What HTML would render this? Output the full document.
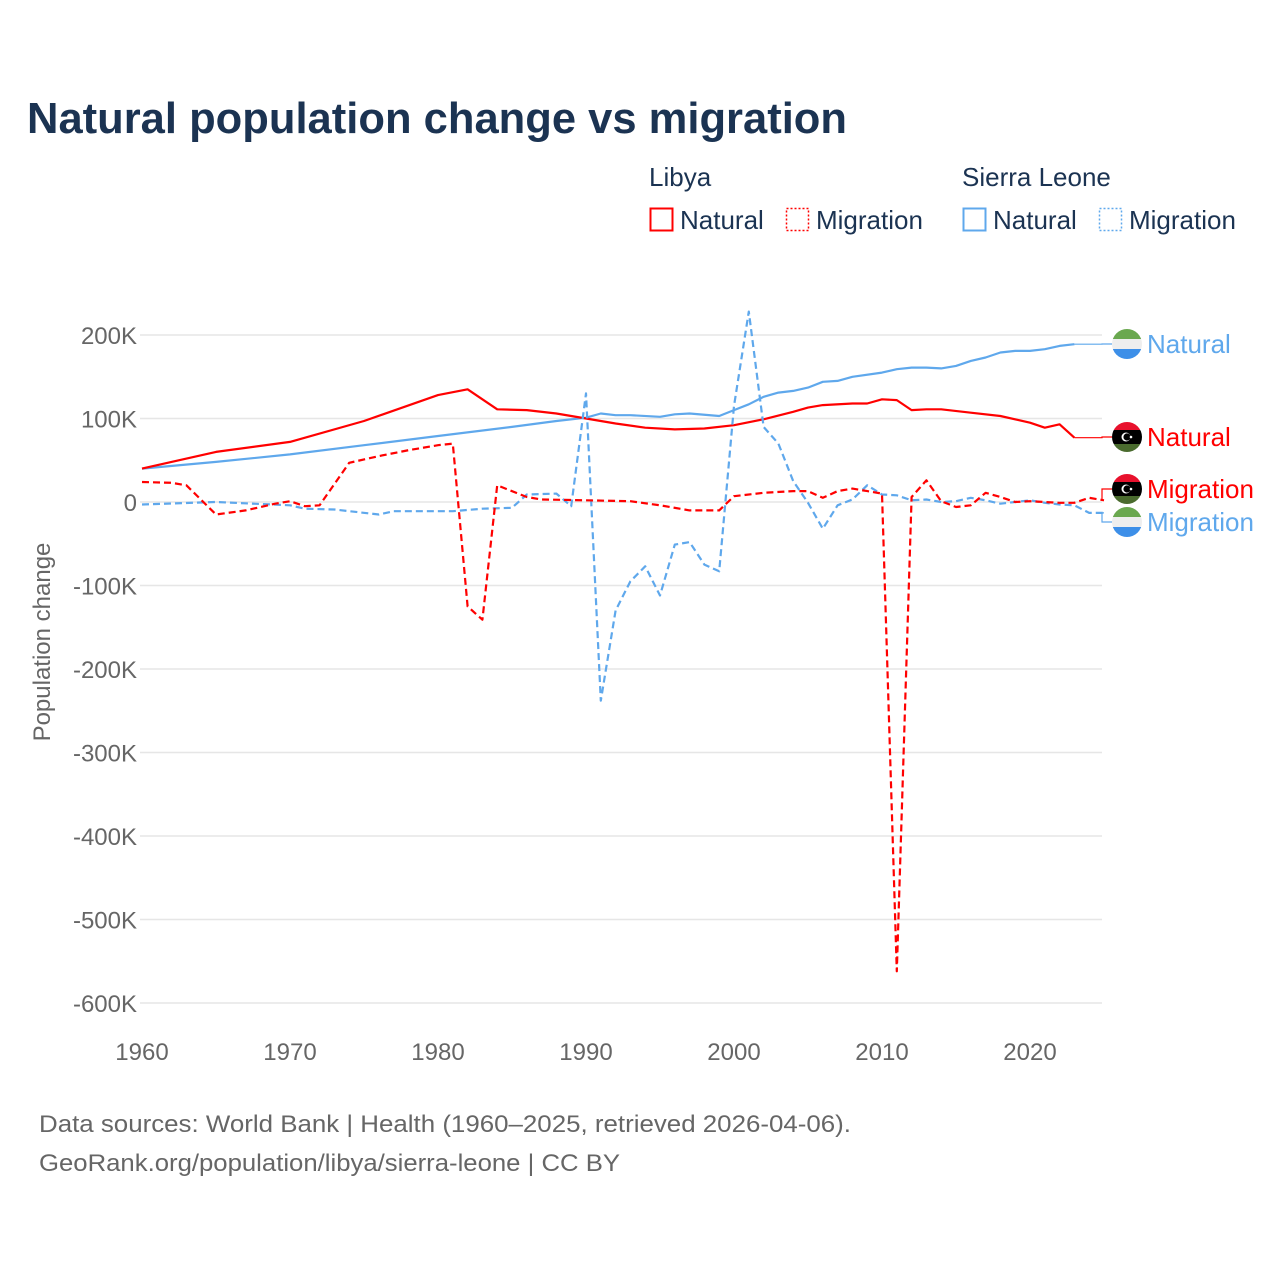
<!DOCTYPE html>
<html><head><meta charset="utf-8"><style>
body{margin:0;background:#fff;font-family:"Liberation Sans",sans-serif}
#wrap{position:relative;width:1280px;height:1280px;overflow:hidden}
</style></head><body>
<div id="wrap">
<svg id="chart" width="1280" height="1280" xmlns="http://www.w3.org/2000/svg">
<text x="27" y="133" font-size="44" font-weight="bold" fill="#1b3352" textLength="820" lengthAdjust="spacingAndGlyphs">Natural population change vs migration</text>
<g font-size="26" fill="#1b3352">
<text x="649" y="186">Libya</text>
<text x="962" y="186">Sierra Leone</text>
<g><rect x="650.5" y="208.5" width="22" height="22" fill="none" stroke="#ff0000" stroke-width="2"/><text x="680" y="229">Natural</text></g>
<g><rect x="786.5" y="208.5" width="22" height="22" fill="none" stroke="#ff0000" stroke-width="1.5" stroke-dasharray="2,2"/><text x="816" y="229">Migration</text></g>
<g><rect x="963.5" y="208.5" width="22" height="22" fill="none" stroke="#5fa8ec" stroke-width="2"/><text x="993" y="229">Natural</text></g>
<g><rect x="1099.5" y="208.5" width="22" height="22" fill="none" stroke="#5fa8ec" stroke-width="1.5" stroke-dasharray="2,2"/><text x="1129" y="229">Migration</text></g>
</g>
<g id="grid"></g>
<g id="yticks" font-size="24" fill="#666" text-anchor="end"></g>
<g id="xticks" font-size="24" fill="#666" text-anchor="middle"></g>
<text transform="translate(50,642) rotate(-90)" font-size="24" fill="#666" text-anchor="middle">Population change</text>
<g id="series"></g>
<g id="labels" font-size="26"></g>
<text x="39" y="1132" font-size="24" fill="#666" textLength="812" lengthAdjust="spacingAndGlyphs">Data sources: World Bank | Health (1960–2025, retrieved 2026-04-06).</text>
<text x="39" y="1171" font-size="24" fill="#666" textLength="581" lengthAdjust="spacingAndGlyphs">GeoRank.org/population/libya/sierra-leone | CC BY</text>
</svg>
</div>
<script>
const yTicks=[200,100,0,-100,-200,-300,-400,-500,-600];
const xTicks=[1960,1970,1980,1990,2000,2010,2020];
const natYears=[1960,1965,1970,1975,1980,1982,1984,1986,1988,1990,1992,1994,1996,1998,2000,2002,2004,2005,2006,2008,2009,2010,2011,2012,2013,2014,2016,2018,2020,2021,2022,2023];
const libyaNatural=[40,60,72,97,128,135,111,110,106,100,94,89,87,88,92,99,108,113,116,118,118,123,122,110,111,111,107,103,95,89,93,77];
const slNatYears=[1960,1965,1970,1975,1980,1985,1988,1990,1991,1992,1993,1995,1996,1997,1999,2000,2001,2002,2003,2004,2005,2006,2007,2008,2010,2011,2012,2013,2014,2015,2016,2017,2018,2019,2020,2021,2022,2023];
const slNatural=[40,48,57,68,79,90,97,101,106,104,104,102,105,106,103,110,117,126,131,133,137,144,145,150,155,159,161,161,160,163,169,173,179,181,181,183,187,189];
const libMigYears=[1960,1962,1963,1965,1967,1969,1970,1971,1972,1974,1976,1978,1980,1981,1982,1983,1984,1986,1987,1990,1993,1995,1997,1999,2000,2002,2004,2005,2006,2007,2008,2009,2010,2011,2012,2013,2014,2015,2016,2017,2018,2019,2020,2021,2022,2023,2024,2025];
const libyaMigration=[24,23,20,-15,-10,-2,1,-5,-4,47,55,62,68,70,-125,-141,20,6,3,2,1,-4,-10,-10,7,11,13,13,5,13,16,13,10,-562,6,26,1,-6,-4,11,6,0,1,0,-1,-1,5,2];
const slMigYears=[1960,1965,1970,1971,1973,1976,1977,1980,1981,1983,1985,1986,1988,1989,1990,1991,1992,1993,1994,1995,1996,1997,1998,1999,2000,2001,2002,2003,2004,2005,2006,2007,2008,2009,2010,2011,2012,2013,2014,2015,2016,2017,2018,2019,2020,2021,2022,2023,2024,2025];
const slMigration=[-3,0,-4,-8,-9,-15,-11,-11,-11,-8,-7,9,10,-5,130,-238,-130,-95,-77,-112,-51,-48,-75,-83,115,228,90,70,25,-1,-32,-4,3,20,9,8,2,3,0,1,5,2,-2,0,2,-1,-3,-4,-13,-13];

const NS='http://www.w3.org/2000/svg';
const X=y=>142+(y-1960)*14.8;
const Y=v=>502-v*0.835;
function el(t,a,p){const e=document.createElementNS(NS,t);for(const k in a)e.setAttribute(k,a[k]);p.appendChild(e);return e;}
const grid=document.getElementById('grid'),yt=document.getElementById('yticks'),xt=document.getElementById('xticks');
yTicks.forEach(v=>{
  const l=el('line',{x1:140,x2:1102,y1:Y(v),y2:Y(v),stroke:'#e6e6e6','stroke-width':1.5},grid);
  
  
  const t=el('text',{x:137,y:Y(v)+9},yt);t.textContent=v===0?'0':v+'K';
  
  
});
xTicks.forEach(v=>{
  const t=el('text',{x:X(v),y:1060},xt);t.textContent=v;
  
  
});
const ser=document.getElementById('series');
function line(xs,vs,color,dash,name){
  const d=xs.map((x,i)=>(i?'L':'M')+X(x).toFixed(1)+','+Y(vs[i]).toFixed(1)).join('');
  const p=el('path',{d:d,fill:'none',stroke:color,'stroke-width':2.2,'stroke-dasharray':dash||'none','stroke-linejoin':'round'},ser);
  
  
  return p;
}
line(slNatYears,slNatural,'#5fa8ec','', 'line-sierra-leone-natural');
line(natYears,libyaNatural,'#ff0000','', 'line-libya-natural');
line(slMigYears,slMigration,'#5fa8ec','7,4','line-sierra-leone-migration');
line(libMigYears,libyaMigration,'#ff0000','7,4','line-libya-migration');
const lab=document.getElementById('labels');
const ends=[
 {v:slNatural[slNatural.length-1],x:X(2023),ly:344,c:'#5fa8ec',t:'Natural',f:'sl',n:'label-sierra-leone-natural'},
 {v:libyaNatural[libyaNatural.length-1],x:X(2023),ly:437,c:'#ff0000',t:'Natural',f:'ly',n:'label-libya-natural'},
 {v:libyaMigration[libyaMigration.length-1],x:X(2025),ly:489,c:'#ff0000',t:'Migration',f:'ly',n:'label-libya-migration'},
 {v:slMigration[slMigration.length-1],x:X(2025),ly:522,c:'#5fa8ec',t:'Migration',f:'sl',n:'label-sierra-leone-migration'}
];
ends.forEach(e=>{
  const y0=Y(e.v);
  const c=el('path',{d:`M${e.x},${y0}L1102,${y0}L1102,${e.ly}L1112,${e.ly}`,fill:'none',stroke:e.c,'stroke-width':1.2},lab);
  
  
  const g=el('g',{},lab);
  
  
  const cx=1127,cy=e.ly,r=15;
  const id='c'+cy;
  const cp=el('clipPath',{id:id},g);el('circle',{cx:cx,cy:cy,r:r},cp);
  const fg=el('g',{'clip-path':`url(#${id})`},g);
  if(e.f==='sl'){
    el('rect',{x:cx-r,y:cy-r,width:30,height:10,fill:'#6aa84f'},fg);
    el('rect',{x:cx-r,y:cy-5,width:30,height:10,fill:'#eeeeee'},fg);
    el('rect',{x:cx-r,y:cy+5,width:30,height:10,fill:'#3d8fe8'},fg);
  }else{
    el('rect',{x:cx-r,y:cy-r,width:30,height:8,fill:'#e8112d'},fg);
    el('rect',{x:cx-r,y:cy-7,width:30,height:14,fill:'#000'},fg);
    el('rect',{x:cx-r,y:cy+7,width:30,height:8,fill:'#4a6b2e'},fg);
    el('circle',{cx:cx-1,cy:cy,r:4.5,fill:'#fff'},fg);
    el('circle',{cx:cx,cy:cy,r:3.6,fill:'#000'},fg);
    el('circle',{cx:cx+4,cy:cy,r:1.3,fill:'#fff'},fg);
  }
  const t=el('text',{x:1147,y:cy+9,fill:e.c},g);t.textContent=e.t;
});
</script>
</body></html>
